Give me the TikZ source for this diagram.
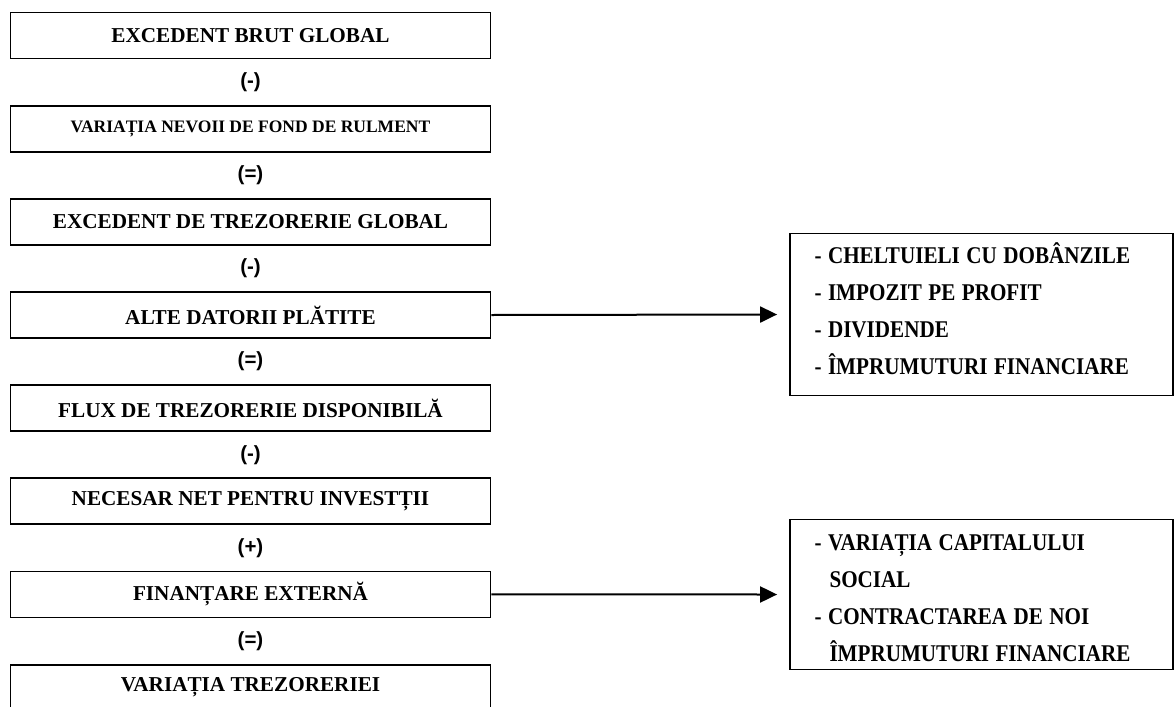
\documentclass[tikz,border=0pt]{standalone}
\usepackage{fontspec}
\setmainfont{Liberation Serif}
\newfontfamily\signfont{Liberation Sans}
\newfontfamily\listfont[FakeStretch=0.88]{Liberation Serif}
\usepackage{tikz}
\usetikzlibrary{arrows.meta}
\newcommand\narrowsp{\spaceskip=6.5pt plus 1pt\relax}

\begin{document}
\begin{tikzpicture}[x=1pt,y=-1pt,
        flowbox/.style={draw,line width=1.8pt,minimum width=480pt,minimum height=46pt,inner sep=0pt,
            font=\fontsize{21.2}{24}\selectfont\bfseries},
        sign/.style={font=\signfont\bfseries\fontsize{20.5}{22}\selectfont},
        listbox/.style={draw,line width=1.8pt,minimum width=383pt,text width=334pt,align=left,inner sep=0pt,
            font=\listfont\bfseries\fontsize{24}{37}\selectfont},
        arrowline/.style={line width=2pt,-{Triangle[length=17pt,width=16pt]}}]
        \useasboundingbox (0,0) rectangle (1176,707);
        \clip (0,0) rectangle (1176,707);
        % left column
        \node (ebg) at (250.5,35.5) [flowbox] {EXCEDENT BRUT GLOBAL};
        \node (vnfr) at (250.5,128.6) [flowbox,font=\fontsize{17.5}{20}\selectfont\bfseries] {VARIAȚIA NEVOII DE FOND DE RULMENT};
        \node (etg) at (250.5,221.8) [flowbox] {EXCEDENT DE TREZORERIE GLOBAL};
        \node (adp) at (250.5,315) [flowbox] {ALTE DATORII PLĂTITE};
        \node (ftd) at (250.5,408.1) [flowbox] {FLUX DE TREZORERIE DISPONIBILĂ};
        \node (nni) at (250.5,501.3) [flowbox] {NECESAR NET PENTRU INVESTȚII};
        \node (fe) at (250.5,594.4) [flowbox] {FINANȚARE EXTERNĂ};
        \node (vt) at (250.5,687.6) [flowbox] {VARIAȚIA TREZORERIEI};
        \node (s1) at (250.5,82) [sign] {(-)};
        \node (s2) at (250.5,175) [sign] {(=)};
        \node (s3) at (250.5,268) [sign] {(-)};
        \node (s4) at (250.5,361) [sign] {(=)};
        \node (s5) at (250.5,455) [sign] {(-)};
        \node (s6) at (250.5,548) [sign] {(+)};
        \node (s7) at (250.5,641) [sign] {(=)};
        % right boxes
        \node (plati) at (981.5,314.5) [listbox,minimum height=162pt]
            {\narrowsp - CHELTUIELI CU DOBÂNZILE\\- IMPOZIT PE PROFIT\\- DIVIDENDE\\- ÎMPRUMUTURI FINANCIARE\rule[-11pt]{0pt}{11pt}};
        \node (finant) at (981.5,594.5) [listbox,minimum height=150pt]
            {\narrowsp\rule{0pt}{23pt}- VARIAȚIA CAPITALULUI\\\hspace*{15pt}SOCIAL\\- CONTRACTAREA DE NOI\\\hspace*{15pt}ÎMPRUMUTURI FINANCIARE};
        \draw[arrowline] (adp.east) -- ([xshift=-12pt]plati.west);
        \draw[arrowline] (fe.east) -- ([xshift=-12pt]finant.west);
    \end{tikzpicture}
\end{document}
